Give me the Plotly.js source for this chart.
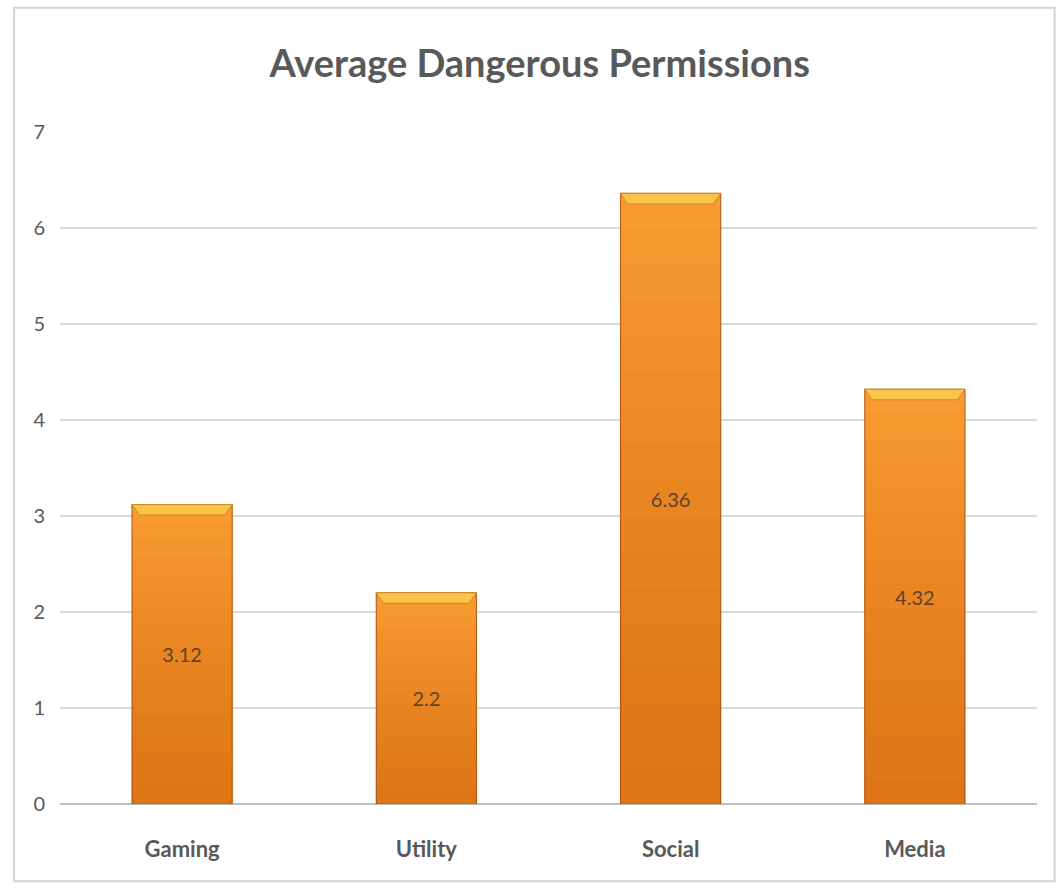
<!DOCTYPE html>
<html>
<head>
<meta charset="utf-8">
<script src="https://cdn.plot.ly/plotly-3.0.1.min.js"></script>
<style>
  html, body { margin: 0; padding: 0; background: #ffffff; }
  #chart { width: 1058px; height: 888px; }
</style>
</head>
<body>
<div id="chart"></div>
<script>
// App categories and their average number of dangerous permissions
const categories = ['Gaming', 'Utility', 'Social', 'Media'];
const avgPermissions = [3.12, 2.2, 6.36, 4.32];
const yTicks = [0, 1, 2, 3, 4, 5, 6, 7];

const BAR_WIDTH = 0.41;
const CAP_DEPTH = 0.11; // bevel depth at the top of each bar, in axis units
const CAP_INSET = 0.03;
const SHADE_STEPS = 16;  // layers used to darken each bar towards its base

const barTrace = {
  type: 'bar',
  x: categories,
  y: avgPermissions,
  width: BAR_WIDTH,
  marker: {
    color: '#F99B31',
    line: { color: '#B9621A', width: 1.2 }
  },
  text: avgPermissions.map(v => String(v)),
  textposition: 'inside',
  insidetextanchor: 'middle',
  textangle: 0,
  textfont: { family: 'Lato, Calibri, sans-serif', size: 20, color: '#404040' },
  hoverinfo: 'x+y',
  cliponaxis: false
};

// Vertical shading and a bevelled top cap on each bar
const shapes = [];
avgPermissions.forEach((v, i) => {
  const x0 = i - BAR_WIDTH / 2, x1 = i + BAR_WIDTH / 2;
  for (let k = 1; k <= SHADE_STEPS; k++) {
    shapes.push({
      type: 'rect', xref: 'x', yref: 'y', layer: 'above',
      x0: x0, x1: x1, y0: 0, y1: v * (1 - k / (SHADE_STEPS + 1)),
      fillcolor: 'rgba(200,88,10,0.036)', line: { width: 0 }
    });
  }
  shapes.push({
    type: 'path', xref: 'x', yref: 'y', layer: 'above',
    path: `M ${x0} ${v} L ${x1} ${v} L ${x1 - CAP_INSET} ${v - CAP_DEPTH} L ${x0 + CAP_INSET} ${v - CAP_DEPTH} Z`,
    fillcolor: '#F9C447', line: { color: '#C98A2A', width: 1 }
  });
});

// Outer chart frame
shapes.push({
  type: 'rect', xref: 'paper', yref: 'paper', layer: 'below',
  x0: -0.047, x1: 1.018, y0: -0.115, y1: 1.185,
  fillcolor: 'rgba(0,0,0,0)', line: { color: '#D4D4D4', width: 2 }
});

const layout = {
  width: 1058,
  height: 888,
  margin: { l: 60, r: 21, t: 132, b: 84 },
  paper_bgcolor: '#ffffff',
  plot_bgcolor: '#ffffff',
  showlegend: false,
  title: {
    text: 'Average Dangerous Permissions',
    font: { family: 'Lato, Calibri, sans-serif', size: 38, color: '#595959', weight: 'bold' },
    x: 0.491, xref: 'paper', xanchor: 'center',
    y: 0.928, yref: 'container', yanchor: 'middle'
  },
  xaxis: {
    type: 'category',
    showgrid: false,
    showline: false,
    zeroline: false,
    ticks: '',
    ticklabelstandoff: 30,
    tickfont: { family: 'Lato, Calibri, sans-serif', size: 22, color: '#595959', weight: 'bold' }
  },
  yaxis: {
    range: [0, 7],
    tickvals: yTicks,
    ticktext: yTicks.map(String),
    showgrid: true,
    gridcolor: '#D9D9D9',
    gridwidth: 1.5,
    zeroline: true,
    zerolinecolor: '#BFBFBF',
    zerolinewidth: 1.5,
    showline: false,
    ticks: '',
    ticklabelstandoff: 14,
    tickfont: { family: 'Lato, Calibri, sans-serif', size: 20, color: '#595959' }
  },
  shapes: shapes
};

Plotly.newPlot('chart', [barTrace], layout, { displayModeBar: false, staticPlot: true });
</script>
</body>
</html>
